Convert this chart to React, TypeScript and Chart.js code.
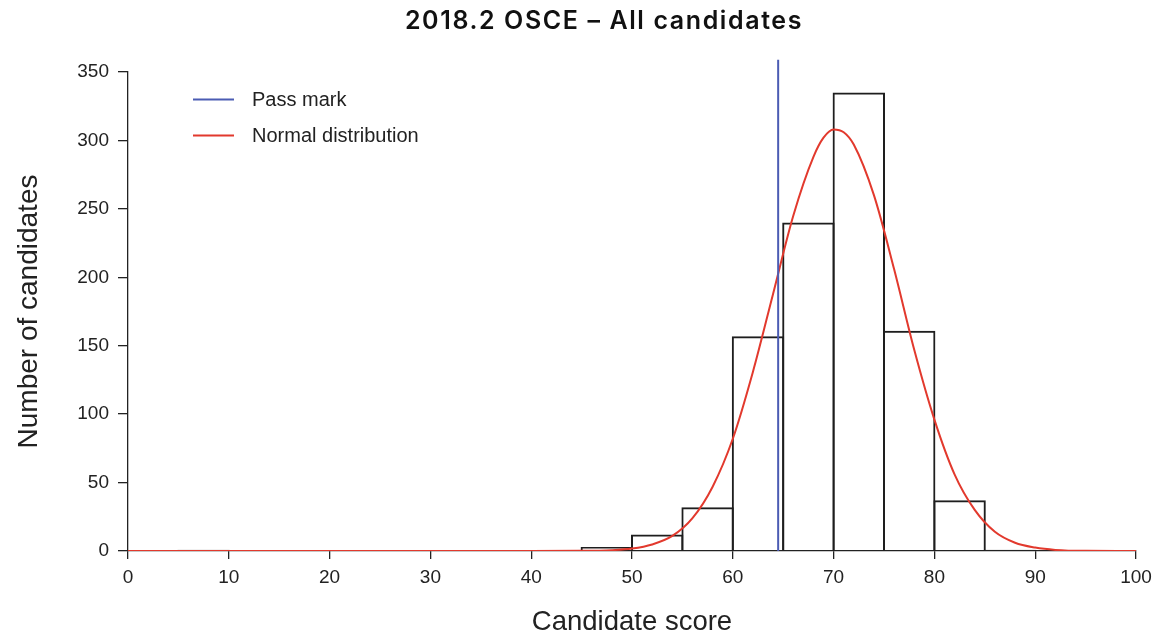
import React, { useEffect, useRef } from "react";
import { Chart, registerables } from "chart.js";

Chart.register(...registerables);

// Histogram bins (centre of each 5-point bin) and counts
const binCentres = [2.5, 7.5, 12.5, 17.5, 22.5, 27.5, 32.5, 37.5, 42.5, 47.5, 52.5, 57.5, 62.5, 67.5, 72.5, 77.5, 82.5, 87.5, 92.5, 97.5];
const binCounts = [0, 1, 0, 0, 0, 0, 0, 0, 0, 3, 12, 32, 157, 240, 335, 161, 37, 1, 0, 0];

// Normal distribution curve
const curveX = [0, 40, 45, 48, 50, 52, 54, 56, 58, 60, 62, 64, 66, 68, 69, 70, 71, 72, 74, 76, 78, 80, 82, 84, 86, 88, 90, 92, 95, 100];
const curveY = [0, 0, 0.1, 0.6, 1.8, 4.8, 11, 24, 47, 82, 131, 188, 245, 288, 302, 308, 306, 297, 260, 206, 147, 96, 56, 30, 14, 6, 2.5, 0.8, 0.1, 0];

const passMark = 64.5;
const passMarkTop = 359;

const xTicks = [0, 10, 20, 30, 40, 50, 60, 70, 80, 90, 100];
const yTicks = [0, 50, 100, 150, 200, 250, 300, 350];

const titleText = "2018.2 OSCE – All candidates";
const xTitle = "Candidate score";
const yTitle = "Number of candidates";
const legendLabels = ["Pass mark", "Normal distribution"];
const passColor = "#4b5cb3";
const curveColor = "#e2392d";
const axisColor = "#222222";

export default function App() {
  const ref = useRef<HTMLCanvasElement>(null);
  useEffect(() => {
    if (!ref.current) return;
    const titlePlugin = {
      id: "titleDraw",
      afterDraw(chart: any) {
        const ctx = chart.ctx;
        ctx.save();
        ctx.fillStyle = "#111";
        ctx.font = "600 25px Inter";
        const prevLS = (ctx as any).letterSpacing;
        (ctx as any).letterSpacing = "1.6px";
        ctx.textAlign = "center";
        ctx.textBaseline = "middle";
        ctx.fillText(titleText, 604, 21);
        (ctx as any).letterSpacing = prevLS || "0px";
        ctx.restore();
      },
    };
    const legendPlugin = {
      id: "legendDraw",
      afterDraw(chart: any) {
        const ctx = chart.ctx;
        const colors = [passColor, curveColor];
        ctx.save();
        ctx.font = "20px 'Liberation Sans'";
        ctx.textBaseline = "middle";
        ctx.textAlign = "left";
        legendLabels.forEach((lab, i) => {
          const y = 99.5 + i * 36;
          ctx.strokeStyle = colors[i];
          ctx.lineWidth = 2;
          ctx.beginPath();
          ctx.moveTo(193, y);
          ctx.lineTo(234, y);
          ctx.stroke();
          ctx.fillStyle = "#222";
          ctx.fillText(lab, 252, y + 1);
        });
        ctx.restore();
      },
    };
    const chart = new Chart(ref.current, {
      type: "bar",
      data: {
        datasets: [
          {
            type: "line",
            label: legendLabels[1],
            data: curveX.map((x, i) => ({ x, y: curveY[i] })),
            borderColor: curveColor,
            borderWidth: 2,
            pointRadius: 0,
            cubicInterpolationMode: "monotone",
            order: 1,
          } as any,
          {
            type: "line",
            label: legendLabels[0],
            data: [
              { x: passMark, y: 0 },
              { x: passMark, y: passMarkTop },
            ],
            borderColor: passColor,
            borderWidth: 2,
            pointRadius: 0,
            clip: false,
            order: 0,
          } as any,
          {
            type: "bar",
            label: "Candidates",
            data: binCentres.map((x, i) => ({ x, y: binCounts[i] })),
            backgroundColor: "rgba(255,255,255,0)",
            borderColor: "#1e1e1e",
            borderWidth: 2,
            inflateAmount: 0,
            barPercentage: 1.04,
            categoryPercentage: 1,
            order: 2,
          } as any,
        ],
      },
      options: {
        responsive: false,
        animation: false,
        layout: { padding: { top: 72, left: 0, right: 21, bottom: 0 } },
        plugins: {
          legend: { display: false },
          title: { display: false },
          tooltip: { enabled: false },
        },
        scales: {
          x: {
            type: "linear",
            min: 0,
            max: 100,
            offset: false,
            afterFit: (s: any) => {
              s.height = 88;
            },
            afterBuildTicks: (s: any) => {
              s.ticks = xTicks.map((v) => ({ value: v }));
            },
            grid: {
              offset: false,
              drawOnChartArea: false,
              drawTicks: true,
              tickLength: 8,
              color: axisColor,
              lineWidth: 1.3,
            },
            border: { display: true, color: axisColor, width: 1.3 },
            ticks: {
              color: "#222",
              font: { family: "'Liberation Sans'", size: 19, lineHeight: 1.4 },
              padding: 5,
              maxRotation: 0,
            },
            title: {
              display: true,
              text: xTitle,
              color: "#222",
              font: { family: "'Liberation Sans'", size: 27.5 },
              padding: { top: 0, bottom: 0 },
            },
          },
          y: {
            min: 0,
            max: 350,
            afterFit: (s: any) => {
              s.width = 128;
            },
            afterBuildTicks: (s: any) => {
              s.ticks = yTicks.map((v) => ({ value: v }));
            },
            grid: {
              drawOnChartArea: false,
              drawTicks: true,
              tickLength: 10,
              color: axisColor,
              lineWidth: 1.3,
            },
            border: { display: true, color: axisColor, width: 1.3 },
            ticks: {
              color: "#222",
              font: { family: "'Liberation Sans'", size: 19 },
              padding: 9,
            },
            title: {
              display: true,
              text: yTitle,
              color: "#222",
              font: { family: "'Liberation Sans'", size: 28 },
              padding: { top: 12, bottom: 0 },
            },
          },
        },
      } as any,
      plugins: [titlePlugin, legendPlugin],
    });
    return () => chart.destroy();
  }, []);
  return (
    <div style={{ position: "fixed", left: 0, top: 0, width: 1157, height: 639, background: "#fff" }}>
      <canvas ref={ref} width={1157} height={639} style={{ width: 1157, height: 639 }} />
    </div>
  );
}
